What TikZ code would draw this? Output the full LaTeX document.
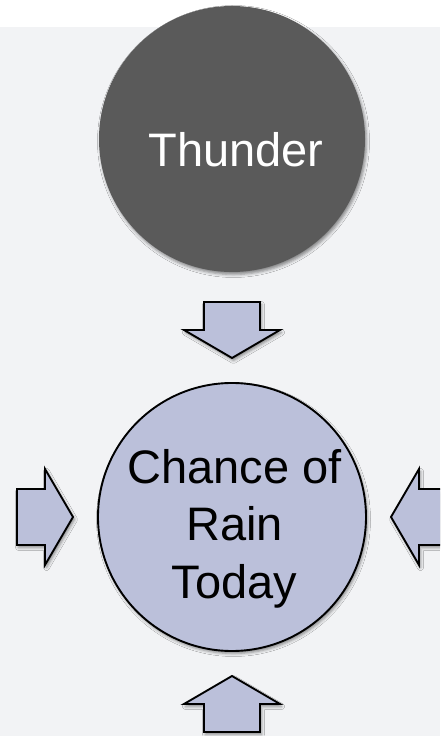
\documentclass[tikz,border=0pt]{standalone}
\usepackage{fontspec}
\setmainfont{Liberation Sans}
\usetikzlibrary{shadows.blur}

\definecolor{pagegray}{HTML}{F2F3F5}
\definecolor{stormgray}{HTML}{5A5A5A}
\definecolor{rainblue}{HTML}{BBC0DA}

\begin{document}
\begin{tikzpicture}[x=1pt,y=1pt,
  softshadow/.style={blur shadow={shadow xshift=1.5pt,shadow yshift=-2.5pt,shadow blur radius=3pt,shadow opacity=45}},
  ball/.style={circle,minimum size=#1,inner sep=0pt,softshadow},
  bigtext/.style={font=\fontsize{47}{57.5}\selectfont,align=center,inner sep=0pt},
  blockarrow/.style={draw=black,line width=1.9pt,fill=rainblue,line join=miter,softshadow}]
\useasboundingbox (0,0) rectangle (440,736);
\clip (0,0) rectangle (440,736);
\fill[white] (0,0) rectangle (440,736);
\fill[pagegray] (0,0) rectangle (440,709);
\node[ball=266pt,fill=stormgray] (thunder) at (232,597) {};
\node[bigtext,text=white] (thundertxt) at ([xshift=4pt,yshift=-11pt]thunder.center) {Thunder};
\node[ball=268pt,fill=rainblue,draw=black,line width=1.9pt] (rain) at (232,219) {};
\node[bigtext] (raintxt) at ([xshift=2.5pt,yshift=-11.5pt]rain.center) {Chance of\\Rain\\Today};
% block arrows pointing in on the rain circle
\foreach \a in {0,90,180,270}
  \draw[blockarrow,shift={(rain.center)},rotate=\a]
    (159,0) -- (187,48) -- (187,28) -- (215,28) -- (215,-28) -- (187,-28) -- (187,-48) -- cycle;
\end{tikzpicture}
\end{document}
